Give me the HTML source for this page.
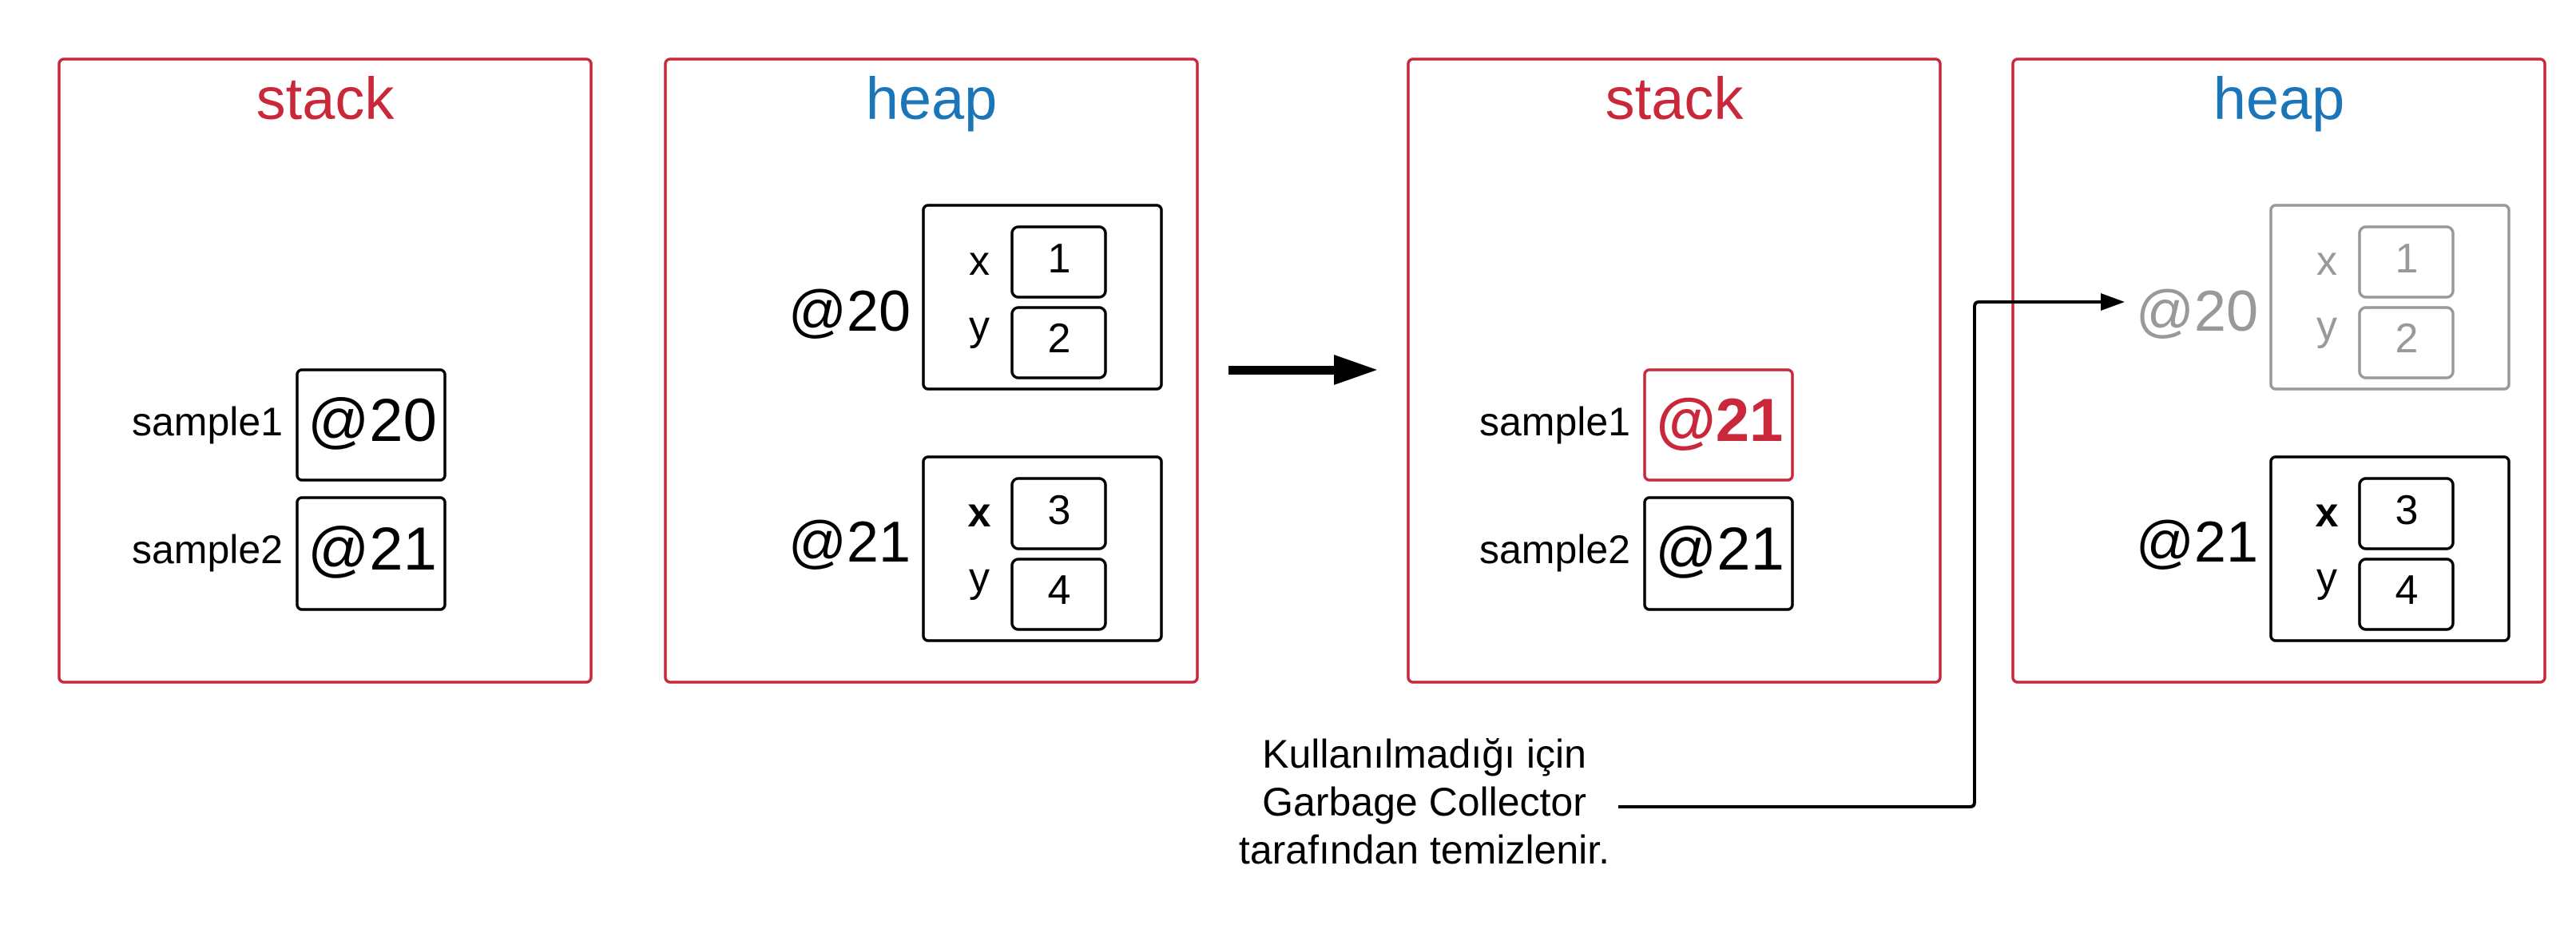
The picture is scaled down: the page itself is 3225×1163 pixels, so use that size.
<!DOCTYPE html>
<html><head><meta charset="utf-8"><style>html,body{margin:0;padding:0;background:#fff}svg{display:block}</style></head>
<body>
<svg width="3225" height="1163" viewBox="0 0 3225 1163" xmlns="http://www.w3.org/2000/svg" font-family="Liberation Sans, sans-serif">
<defs>
<g id="obj">
  <rect x="0" y="0" width="298" height="230" rx="6" fill="#fff" stroke-width="3.5"/>
  <rect x="111" y="27" width="117" height="88" rx="8" fill="#fff" stroke-width="3.5"/>
  <rect x="111" y="128" width="117" height="88" rx="8" fill="#fff" stroke-width="3.5"/>
</g>
</defs>
<g fill="none" stroke="#c9283a" stroke-width="3.5">
  <rect x="74" y="74" width="666" height="780" rx="6"/>
  <rect x="833" y="74" width="666" height="780" rx="6"/>
  <rect x="1763" y="74" width="666" height="780" rx="6"/>
  <rect x="2520" y="74" width="666" height="780" rx="6"/>
</g>
<g font-size="74" text-anchor="middle">
  <text x="407" y="149" fill="#c9283a">stack</text>
  <text x="1166" y="149" fill="#1a76b8">heap</text>
  <text x="2096" y="149" fill="#c9283a">stack</text>
  <text x="2853" y="149" fill="#1a76b8">heap</text>
</g>
<g fill="#fff" stroke="#000" stroke-width="3.5">
  <rect x="372" y="463" width="185" height="138" rx="6"/>
  <rect x="372" y="623" width="185" height="140" rx="6"/>
  <rect x="2059" y="623" width="185" height="140" rx="6"/>
</g>
<rect x="2059" y="463" width="185" height="138" rx="6" fill="#fff" stroke="#c9283a" stroke-width="3.5"/>
<g font-size="50" text-anchor="end">
  <text x="354" y="545">sample1</text>
  <text x="354" y="705">sample2</text>
  <text x="2041" y="545">sample1</text>
  <text x="2041" y="705">sample2</text>
</g>
<g font-size="76" text-anchor="middle">
  <text x="466" y="552">@20</text>
  <text x="466" y="713">@21</text>
  <text x="2153" y="552" fill="#c9283a" font-weight="bold">@21</text>
  <text x="2153" y="713">@21</text>
</g>
<use href="#obj" x="1156" y="257" stroke="#000"/>
<use href="#obj" x="1156" y="572" stroke="#000"/>
<use href="#obj" x="2843" y="257" stroke="#999"/>
<use href="#obj" x="2843" y="572" stroke="#000"/>
<g font-size="72" text-anchor="end">
  <text x="1140" y="414">@20</text>
  <text x="1140" y="703">@21</text>
  <text x="2827" y="414" fill="#999">@20</text>
  <text x="2827" y="703">@21</text>
</g>
<g font-size="52" text-anchor="middle">
  <text x="1226" y="344">x</text>
  <text x="1226" y="425">y</text>
  <text x="1326" y="341">1</text>
  <text x="1326" y="441">2</text>
  <text x="1226" y="659" font-weight="bold">x</text>
  <text x="1226" y="740">y</text>
  <text x="1326" y="656">3</text>
  <text x="1326" y="756">4</text>
  <g fill="#999">
    <text x="2913" y="344">x</text>
    <text x="2913" y="425">y</text>
    <text x="3013" y="341">1</text>
    <text x="3013" y="441">2</text>
  </g>
  <text x="2913" y="659" font-weight="bold">x</text>
  <text x="2913" y="740">y</text>
  <text x="3013" y="656">3</text>
  <text x="3013" y="756">4</text>
</g>
<rect x="1538" y="458" width="138" height="11" fill="#000"/>
<polygon points="1670,444 1724,463 1670,482" fill="#000"/>
<path d="M2026,1010 H2466 Q2472,1010 2472,1004 V384 Q2472,378 2478,378 H2640" fill="none" stroke="#000" stroke-width="4"/>
<polygon points="2630,367 2660,378 2630,389" fill="#000"/>
<g font-size="50" text-anchor="middle">
  <text x="1783" y="961">Kullanılmadığı için</text>
  <text x="1783" y="1021">Garbage Collector</text>
  <text x="1783" y="1081">tarafından temizlenir.</text>
</g>
</svg>
</body></html>
